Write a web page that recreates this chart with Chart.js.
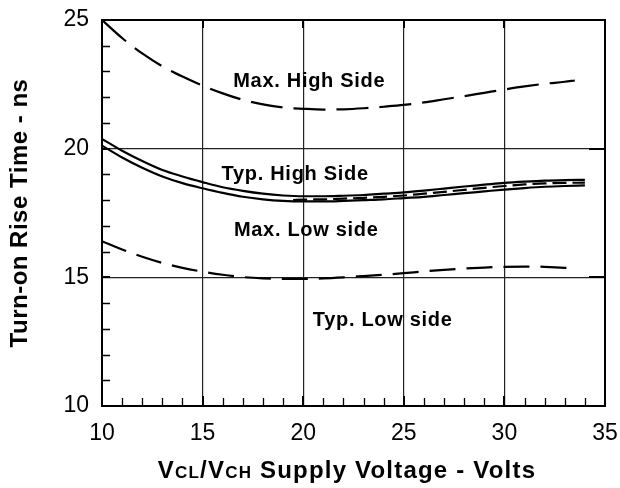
<!DOCTYPE html>
<html>
<head>
<meta charset="utf-8">
<script src="https://cdn.jsdelivr.net/npm/chart.js@4.4.1/dist/chart.umd.min.js"></script>
<style>
  html, body { margin: 0; padding: 0; background: #fff; }
  #wrap { width: 620px; height: 488px; position: relative; }
</style>
</head>
<body>
<div id="wrap"><canvas id="chartRise"></canvas></div>
<script>
// datos
const xMaxHigh = [10, 11, 12, 13, 14, 15, 16, 17, 18, 19, 20, 21, 22, 23, 24, 25, 26, 27, 28, 29, 30, 31, 32, 33, 33.5];
const maxHigh  = [25.0, 24.3, 23.7, 23.2, 22.8, 22.45, 22.15, 21.9, 21.72, 21.6, 21.55, 21.52, 21.53, 21.57, 21.63, 21.7, 21.8, 21.92, 22.04, 22.17, 22.3, 22.42, 22.52, 22.6, 22.65];

const xTyp = [10, 11, 12, 13, 14, 15, 16, 17, 18, 19, 20, 21, 22, 23, 24, 25, 26, 27, 28, 29, 30, 31, 32, 33, 34];
const typHigh = [20.38, 19.92, 19.52, 19.17, 18.92, 18.7, 18.5, 18.36, 18.25, 18.18, 18.15, 18.15, 18.17, 18.2, 18.25, 18.3, 18.37, 18.45, 18.53, 18.6, 18.67, 18.72, 18.76, 18.78, 18.79];
const maxLow  = [20.12, 19.66, 19.26, 18.92, 18.66, 18.46, 18.28, 18.13, 18.03, 17.97, 17.95, 17.95, 17.97, 18.0, 18.03, 18.08, 18.13, 18.2, 18.27, 18.34, 18.41, 18.47, 18.52, 18.55, 18.57];

const xMid = [19.5, 20, 21, 22, 23, 24, 25, 26, 27, 28, 29, 30, 31, 32, 33, 34];
const midDashed = [18.0, 18.02, 18.03, 18.06, 18.09, 18.13, 18.18, 18.25, 18.32, 18.4, 18.48, 18.55, 18.61, 18.65, 18.67, 18.68];

const xTypLow = [10, 11, 12, 13, 14, 15, 16, 17, 18, 19, 20, 21, 22, 23, 24, 25, 26, 27, 28, 29, 30, 31, 32, 33, 33.5];
const typLow  = [16.4, 16.08, 15.8, 15.56, 15.37, 15.22, 15.1, 15.01, 14.96, 14.94, 14.94, 14.96, 15.0, 15.05, 15.1, 15.16, 15.23, 15.29, 15.34, 15.38, 15.41, 15.42, 15.41, 15.37, 15.33];

const curveLabels = ["Max. High Side", "Typ. High Side", "Max. Low side", "Typ. Low side"];
const labelX = [20.3, 19.6, 20.15, 23.95];
const labelY = [22.63, 18.98, 16.83, 13.33];

const xTicks = [10, 15, 20, 25, 30, 35];
const yTicks = [10, 15, 20, 25];

const INK = "#000";
const GRID = "#222";
const FAMILY = "'Liberation Sans', Arial, sans-serif";

const pts = (xs, ys) => xs.map((x, i) => ({ x: x, y: ys[i] }));

const curve = (label, xs, ys, dash) => ({
    label: label,
    data: pts(xs, ys),
    borderColor: INK,
    borderWidth: 2.2,
    borderDash: dash,
    pointRadius: 0,
    fill: false,
    cubicInterpolationMode: "monotone"
});

// marcas menores, marco y textos
const decor = {
    id: "decor",
    afterDatasetsDraw(chart) {
        const { ctx, chartArea: a, scales: { x, y } } = chart;
        ctx.save();
        ctx.strokeStyle = INK;

        ctx.lineWidth = 1.3;
        ctx.beginPath();
        for (let v = 11; v < 35; v++) {
            if (v % 5 === 0) continue;
            const px = Math.round(x.getPixelForValue(v)) + 0.5;
            ctx.moveTo(px, a.bottom); ctx.lineTo(px, a.bottom - 8);
        }
        for (let v = 11; v < 25; v++) {
            if (v % 5 === 0) continue;
            const py = Math.round(y.getPixelForValue(v)) + 0.5;
            ctx.moveTo(a.left, py); ctx.lineTo(a.left + 8, py);
        }
        ctx.stroke();

        ctx.lineWidth = 2;
        ctx.beginPath();
        xTicks.slice(1, -1).forEach(v => {
            const px = Math.round(x.getPixelForValue(v));
            ctx.moveTo(px, a.bottom); ctx.lineTo(px, a.bottom - 10);
            ctx.moveTo(px, a.top); ctx.lineTo(px, a.top + 8);
        });
        yTicks.slice(1, -1).forEach(v => {
            const py = Math.round(y.getPixelForValue(v));
            ctx.moveTo(a.left, py); ctx.lineTo(a.left + 8, py);
            ctx.moveTo(a.right, py); ctx.lineTo(a.right - 16, py);
        });
        ctx.stroke();

        ctx.lineWidth = 2;
        ctx.strokeRect(a.left, a.top, a.right - a.left, a.bottom - a.top);

        ctx.fillStyle = INK;
        ctx.font = "bold 20px " + FAMILY;
        ctx.letterSpacing = "0.7px";
        ctx.textAlign = "center";
        ctx.textBaseline = "middle";
        curveLabels.forEach((t, i) => {
            ctx.fillText(t, x.getPixelForValue(labelX[i]), y.getPixelForValue(labelY[i]));
        });

        // titulo eje y
        ctx.save();
        ctx.font = "bold 24px " + FAMILY;
        ctx.letterSpacing = "0.5px";
        ctx.translate(20, (a.top + a.bottom) / 2);
        ctx.rotate(-Math.PI / 2);
        ctx.fillText("Turn-on Rise Time - ns", 0, 0);
        ctx.restore();

        // titulo eje x con subindices en versalitas
        const big = "bold 24px " + FAMILY;
        const small = "bold 17px " + FAMILY;
        const parts = [["V", big], ["CL", small], ["/V", big], ["CH", small], [" Supply Voltage - Volts", big]];
        ctx.letterSpacing = "1.2px";
        let total = 0;
        parts.forEach(([s, f]) => { ctx.font = f; total += ctx.measureText(s).width; });
        let cx = 347 - total / 2;
        ctx.textAlign = "left";
        ctx.textBaseline = "alphabetic";
        parts.forEach(([s, f]) => {
            ctx.font = f;
            ctx.fillText(s, cx, 478);
            cx += ctx.measureText(s).width;
        });
        ctx.restore();
    }
};

const noPad = s => { s.paddingLeft = 0; s.paddingRight = 0; s.paddingTop = 0; s.paddingBottom = 0; };

const riseCtx = document.getElementById("chartRise").getContext("2d");

new Chart(riseCtx, {
    type: "line",
    data: {
        datasets: [
            curve("Max. High Side", xMaxHigh, maxHigh, [32, 11]),
            curve("Typ. High Side", xTyp, typHigh, []),
            curve("Max. Low side", xTyp, maxLow, []),
            curve("Typ. High Side (dash)", xMid, midDashed, [14, 6]),
            curve("Typ. Low side", xTypLow, typLow, [26, 11])
        ]
    },
    options: {
        responsive: true,
        maintainAspectRatio: false,
        animation: false,
        layout: { padding: { top: 20, right: 15, left: 0, bottom: 0 } },
        plugins: { legend: { display: false }, tooltip: { enabled: false } },
        scales: {
            x: {
                type: "linear",
                min: 10, max: 35,
                afterBuildTicks: s => { s.ticks = xTicks.map(v => ({ value: v })); },
                afterFit: s => { s.height = 82; noPad(s); },
                ticks: { color: INK, padding: 14, font: { size: 23, family: FAMILY } },
                grid: { color: GRID, lineWidth: 1.2, drawTicks: false },
                border: { display: false }
            },
            y: {
                min: 10, max: 25,
                afterBuildTicks: s => { s.ticks = yTicks.map(v => ({ value: v })); },
                afterFit: s => { s.width = 102; noPad(s); },
                ticks: { color: INK, padding: 13, font: { size: 23, family: FAMILY } },
                grid: { color: GRID, lineWidth: 1.2, drawTicks: false },
                border: { display: false }
            }
        }
    },
    plugins: [decor]
});
</script>
</body>
</html>
